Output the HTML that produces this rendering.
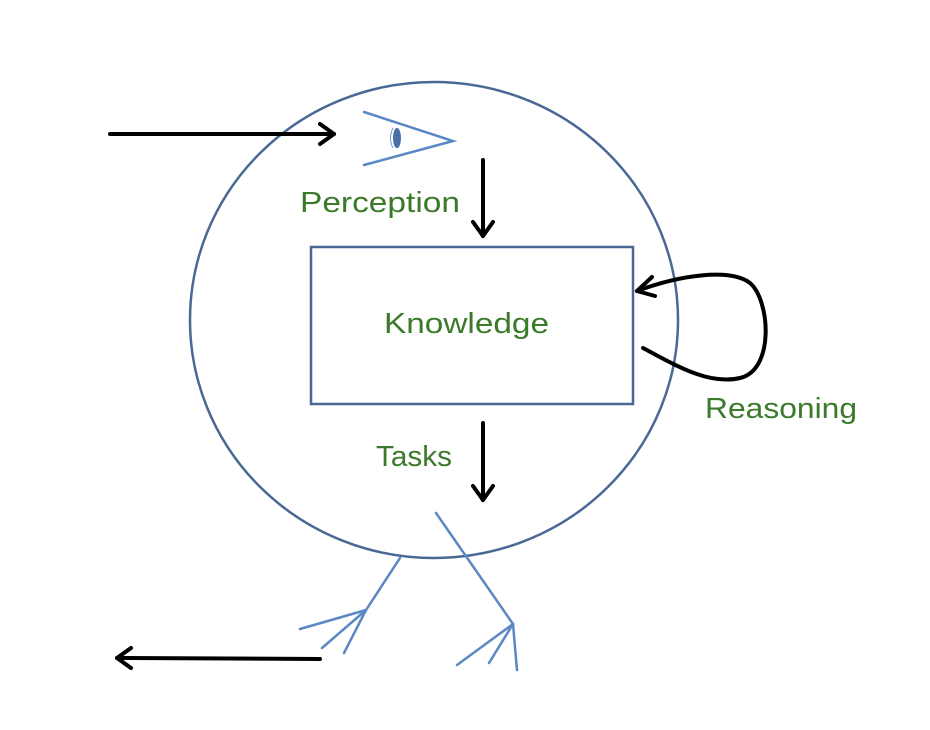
<!DOCTYPE html>
<html><head><style>body{margin:0;background:#fff}svg{display:block}</style></head><body>
<svg width="930" height="730" viewBox="0 0 930 730" xmlns="http://www.w3.org/2000/svg">
<ellipse cx="434" cy="320" rx="244" ry="238" fill="none" stroke="#4a6896" stroke-width="2.5"/>
<rect x="311" y="247" width="322" height="157" fill="#fff" stroke="#4a6896" stroke-width="2.5"/>
<g font-family="Liberation Sans, sans-serif" font-size="29" fill="#3b7a2a" lengthAdjust="spacingAndGlyphs">
<text x="300" y="212" textLength="160" lengthAdjust="spacingAndGlyphs">Perception</text>
<text x="384" y="333" textLength="165" lengthAdjust="spacingAndGlyphs">Knowledge</text>
<text x="376" y="466" textLength="76" lengthAdjust="spacingAndGlyphs">Tasks</text>
<text x="705" y="418" textLength="152" lengthAdjust="spacingAndGlyphs">Reasoning</text>
</g>
<g stroke="#000" stroke-width="4" fill="none" stroke-linecap="round" stroke-linejoin="round">
<line x1="110" y1="134" x2="334" y2="134"/><polyline points="320,124 334,134 320,144"/>
<line x1="483" y1="160" x2="483" y2="236"/><polyline points="473,222 483,236 493,222"/>
<line x1="483" y1="423" x2="483" y2="500"/><polyline points="473,486 483,500 493,486"/>
<line x1="320" y1="659" x2="117" y2="658"/><polyline points="131,648 117,658 131,668"/>
<path d="M643,348 C680,368 710,385 740,378 C775,370 770,300 750,283 C730,268 680,275 637,291"/>
<polyline points="652,277 637,291 655,296"/>
</g>
<g stroke="#5a88c4" stroke-width="2.5" fill="none" stroke-linecap="round">
<polyline points="364,112 453,141 364,165"/>
<line x1="400" y1="558" x2="366" y2="610"/>
<line x1="366" y1="610" x2="300" y2="629"/><line x1="366" y1="610" x2="322" y2="648"/><line x1="366" y1="610" x2="344" y2="653"/>
<line x1="436" y1="513" x2="513" y2="624"/>
<line x1="513" y1="624" x2="457" y2="665"/><line x1="513" y1="624" x2="489" y2="663"/><line x1="513" y1="624" x2="517" y2="670"/>
</g>
<ellipse cx="397" cy="138" rx="4" ry="10" fill="#4a6fa8"/>
<path d="M393,128 Q388,138 393,148" fill="none" stroke="#7a9acc" stroke-width="1"/>
</svg>
</body></html>
